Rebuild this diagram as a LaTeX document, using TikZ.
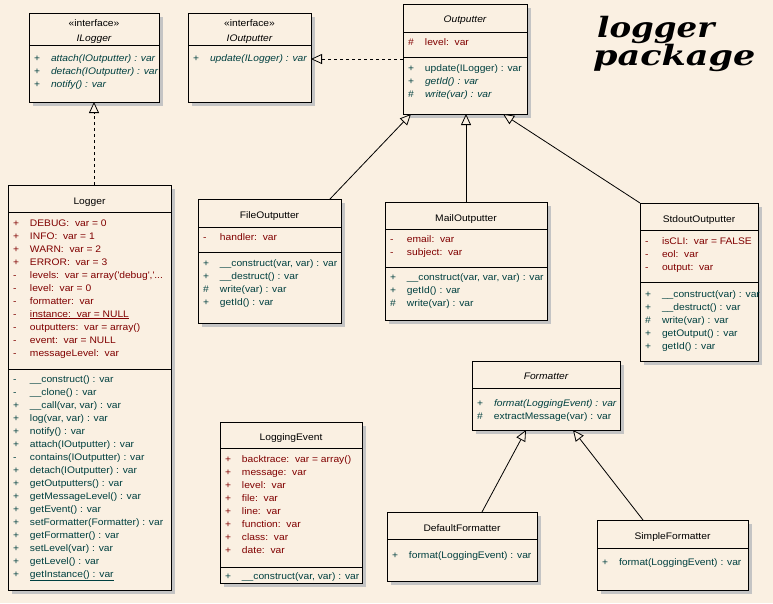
\documentclass[tikz,border=0pt]{standalone}
\usepackage{fontspec}
\newfontfamily\umlfont[FakeStretch=1.08]{Liberation Sans}
\newfontfamily\titlefont{DejaVu Serif}
\usetikzlibrary{arrows.meta,calc,fit}
\definecolor{bgc}{RGB}{250,240,226}
\definecolor{attrc}{RGB}{128,0,0}
\definecolor{methc}{RGB}{0,64,64}
\definecolor{shadc}{RGB}{196,196,196}
\newcounter{rc}
\tikzset{
  txt/.style={anchor=base west, inner sep=0pt, outer sep=0pt, font=\umlfont\fontsize{9.5}{11}\selectfont},
  attr/.style={txt, text=attrc},
  meth/.style={txt, text=methc},
  hdr/.style={anchor=base, inner sep=0pt, outer sep=0pt, font=\umlfont\fontsize{9.5}{11}\selectfont},
  classbox/.style={draw=black, line width=1pt, fill=bgc, inner sep=0pt, outer sep=0pt},
  sepline/.style={line width=1pt},
  gen/.style={line width=0.8pt, -{Triangle[length=11pt,width=10pt,fill=bgc]}},
  real/.style={gen, dash pattern=on 3pt off 3pt},
  titletxt/.style={anchor=base west, inner sep=0pt, font=\titlefont\fontsize{28}{30}\selectfont\bfseries\itshape},
}
\newcommand\umlclass[5]{%
  \fill[shadc] (#2+4,#3+4) rectangle (#4+4,#5+4);
  \node[classbox, fit={(#2,#3) (#4,#5)}] (#1) {};
}
\newcommand\compline[3]{\draw[sepline] (#1,#3) -- (#2,#3);}
\newcommand\umlrow[5]{\stepcounter{rc}\node[#1] (row\arabic{rc}) at (#2+5,#3) {\makebox[17pt][l]{#4}#5};}
\begin{document}
\begin{tikzpicture}[x=1pt,y=-1pt]
\fill[bgc] (0,0) rectangle (773,603);
\useasboundingbox (0,0) rectangle (773,603);

% title
\node[titletxt] (title1) at (597,37) {\scalebox{1.16}[1]{logger}};
\node[titletxt] (title2) at (593,65) {\scalebox{1.25}[1]{package}};

% ILogger
\umlclass{ilogger}{29}{13}{159}{102}
\compline{29}{159}{45}
\node[hdr] (ilogs) at (94,26) {«interface»};
\node[hdr] (ilogn) at (94,41) {\itshape ILogger};
\umlrow{meth}{29}{61}{+}{\itshape attach(IOutputter) : var}
\umlrow{meth}{29}{74}{+}{\itshape detach(IOutputter) : var}
\umlrow{meth}{29}{87}{+}{\itshape notify() : var}

% IOutputter
\umlclass{ioutputter}{188}{13}{311}{102}
\compline{188}{311}{45}
\node[hdr] (ious) at (249.5,26) {«interface»};
\node[hdr] (iouns) at (249.5,41) {\itshape IOutputter};
\umlrow{meth}{188}{61}{+}{\itshape update(ILogger) : var}

% Outputter
\umlclass{outputter}{403}{4}{527}{114}
\compline{403}{527}{32}
\compline{403}{527}{57}
\node[hdr] (outn) at (465,22) {\itshape Outputter};
\umlrow{attr}{403}{45}{\#}{level:\ \ var}
\umlrow{meth}{403}{71}{+}{update(ILogger) : var}
\umlrow{meth}{403}{84}{+}{\itshape getId() : var}
\umlrow{meth}{403}{97}{\#}{\itshape write(var) : var}

% Logger
\umlclass{logger}{8}{185}{171}{590}
\compline{8}{171}{212}
\compline{8}{171}{369}
\node[hdr] (logn) at (89.5,204) {Logger};
\umlrow{attr}{8}{226}{+}{DEBUG:\ \ var = 0}
\umlrow{attr}{8}{239}{+}{INFO:\ \ var = 1}
\umlrow{attr}{8}{252}{+}{WARN:\ \ var = 2}
\umlrow{attr}{8}{265}{+}{ERROR:\ \ var = 3}
\umlrow{attr}{8}{278}{-}{levels:\ \ var = array(\textquotesingle debug\textquotesingle,\textquotesingle...}
\umlrow{attr}{8}{291}{-}{level:\ \ var = 0}
\umlrow{attr}{8}{304}{-}{formatter:\ \ var}
\umlrow{attr}{8}{317}{-}{\underline{instance:\ \ var = NULL}}
\umlrow{attr}{8}{330}{-}{outputters:\ \ var = array()}
\umlrow{attr}{8}{343}{-}{event:\ \ var = NULL}
\umlrow{attr}{8}{356}{-}{messageLevel:\ \ var}
\umlrow{meth}{8}{382}{-}{\_\_construct() : var}
\umlrow{meth}{8}{395}{-}{\_\_clone() : var}
\umlrow{meth}{8}{408}{+}{\_\_call(var, var) : var}
\umlrow{meth}{8}{421}{+}{log(var, var) : var}
\umlrow{meth}{8}{434}{+}{notify() : var}
\umlrow{meth}{8}{447}{+}{attach(IOutputter) : var}
\umlrow{meth}{8}{460}{-}{contains(IOutputter) : var}
\umlrow{meth}{8}{473}{+}{detach(IOutputter) : var}
\umlrow{meth}{8}{486}{+}{getOutputters() : var}
\umlrow{meth}{8}{499}{+}{getMessageLevel() : var}
\umlrow{meth}{8}{512}{+}{getEvent() : var}
\umlrow{meth}{8}{525}{+}{setFormatter(Formatter) : var}
\umlrow{meth}{8}{538}{+}{getFormatter() : var}
\umlrow{meth}{8}{551}{+}{setLevel(var) : var}
\umlrow{meth}{8}{564}{+}{getLevel() : var}
\umlrow{meth}{8}{577}{+}{\underline{getInstance() : var}}

% FileOutputter
\umlclass{fileout}{198}{199}{341}{323}
\compline{198}{341}{227}
\compline{198}{341}{252}
\node[hdr] (filen) at (269.5,218) {FileOutputter};
\umlrow{attr}{198}{240}{-}{handler:\ \ var}
\umlrow{meth}{198}{266}{+}{\_\_construct(var, var) : var}
\umlrow{meth}{198}{279}{+}{\_\_destruct() : var}
\umlrow{meth}{198}{292}{\#}{write(var) : var}
\umlrow{meth}{198}{305}{+}{getId() : var}

% MailOutputter
\umlclass{mailout}{385}{202}{547}{320}
\compline{385}{547}{229}
\compline{385}{547}{267}
\node[hdr] (mailn) at (466,221) {MailOutputter};
\umlrow{attr}{385}{242}{-}{email:\ \ var}
\umlrow{attr}{385}{255}{-}{subject:\ \ var}
\umlrow{meth}{385}{280}{+}{\_\_construct(var, var, var) : var}
\umlrow{meth}{385}{293}{+}{getId() : var}
\umlrow{meth}{385}{306}{\#}{write(var) : var}

% StdoutOutputter
\umlclass{stdout}{640}{203}{758}{361}
\compline{640}{758}{230}
\compline{640}{758}{282}
\node[hdr] (stdn) at (699,222) {StdoutOutputter};
\umlrow{attr}{640}{244}{-}{isCLI:\ \ var = FALSE}
\umlrow{attr}{640}{257}{-}{eol:\ \ var}
\umlrow{attr}{640}{270}{-}{output:\ \ var}
\umlrow{meth}{640}{297}{+}{\_\_construct(var) : var}
\umlrow{meth}{640}{310}{+}{\_\_destruct() : var}
\umlrow{meth}{640}{323}{\#}{write(var) : var}
\umlrow{meth}{640}{336}{+}{getOutput() : var}
\umlrow{meth}{640}{349}{+}{getId() : var}

% Formatter
\umlclass{formatter}{472}{361}{620}{430}
\compline{472}{620}{388}
\node[hdr] (formn) at (546,379) {\itshape Formatter};
\umlrow{meth}{472}{406}{+}{\itshape format(LoggingEvent) : var}
\umlrow{meth}{472}{419}{\#}{extractMessage(var) : var}

% LoggingEvent
\umlclass{logevent}{220}{422}{362}{583}
\compline{220}{362}{448}
\compline{220}{362}{567}
\node[hdr] (leven) at (291,440) {LoggingEvent};
\umlrow{attr}{220}{462}{+}{backtrace:\ \ var = array()}
\umlrow{attr}{220}{475}{+}{message:\ \ var}
\umlrow{attr}{220}{488}{+}{level:\ \ var}
\umlrow{attr}{220}{501}{+}{file:\ \ var}
\umlrow{attr}{220}{514}{+}{line:\ \ var}
\umlrow{attr}{220}{527}{+}{function:\ \ var}
\umlrow{attr}{220}{540}{+}{class:\ \ var}
\umlrow{attr}{220}{553}{+}{date:\ \ var}
\umlrow{meth}{220}{579}{+}{\_\_construct(var, var) : var}

% DefaultFormatter
\umlclass{defform}{387}{512}{537}{581}
\compline{387}{537}{539}
\node[hdr] (defn) at (462,531) {DefaultFormatter};
\umlrow{meth}{387}{558}{+}{format(LoggingEvent) : var}

% SimpleFormatter
\umlclass{simform}{597}{520}{748}{590}
\compline{597}{748}{548}
\node[hdr] (simn) at (672.5,539) {SimpleFormatter};
\umlrow{meth}{597}{565}{+}{format(LoggingEvent) : var}

% connectors
\draw[real] (ilogger.south |- logger.north) -- (ilogger.south);
\draw[real] (outputter.west) -- (outputter.west -| ioutputter.east);
\draw[gen] ([xshift=-11pt]fileout.north east) -- ([xshift=8pt]outputter.south west);
\draw[gen] (mailout.north) -- (mailout.north |- outputter.south);
\draw[gen] (stdout.north west) -- ([xshift=-24pt]outputter.south east);
\draw[gen] ([xshift=20pt]defform.north) -- ([xshift=-20pt]formatter.south);
\draw[gen] ([xshift=46pt]simform.north west) -- ([xshift=27pt]formatter.south);
\end{tikzpicture}
\end{document}
